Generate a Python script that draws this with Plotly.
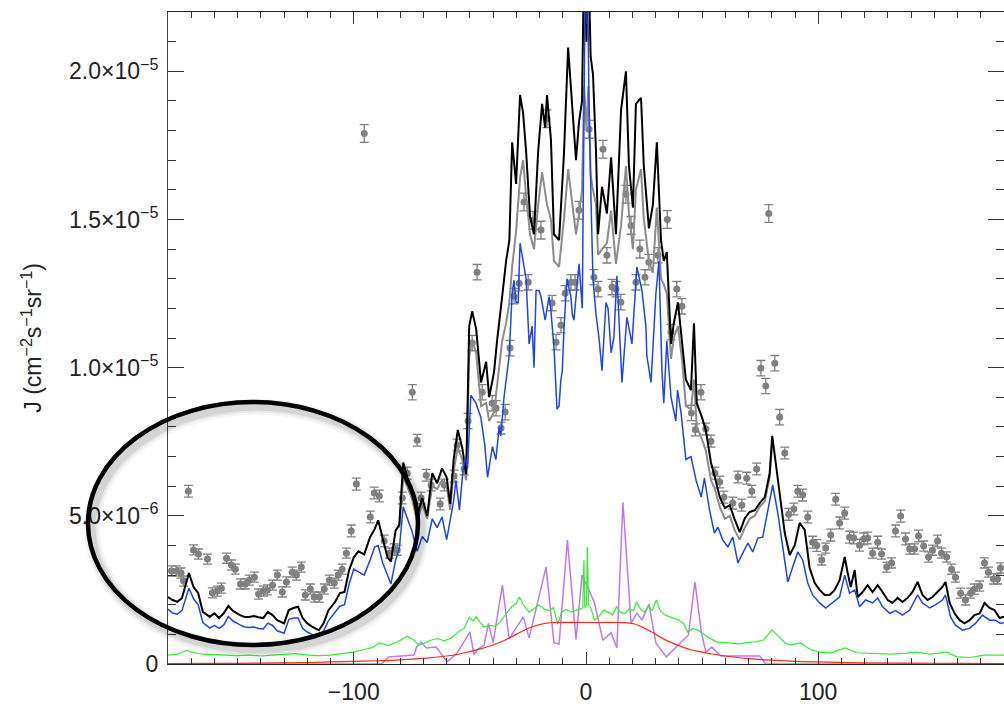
import plotly.graph_objects as go

SCALE = 1e-6  # all intensities below are in units of 1e-6 cm^-2 s^-1 sr^-1

# Observed points: longitude, intensity, 1-sigma error
OBS_X = [-178.5, -176.4, -174.4, -173.3, -171.2, -169.0, -166.9, -163.0, -160.9, -158.8,
         -157.0, -154.8, -152.7, -151.0, -148.8, -146.7, -145.0, -142.8, -141.0, -138.9,
         -137.2, -135.0, -132.9, -130.8, -129.0, -126.5, -124.7, -122.6, -120.9, -118.7,
         -117.0, -114.8, -112.7, -110.5, -108.4, -106.7, -105.0, -103.2, -101.1, -98.9,
         -95.5, -92.9, -91.2, -89.0, -86.9, -84.7, -82.6, -81.3, -79.1, -77.0,
         -74.8, -72.7, -71.0, -68.8, -66.7, -62.8, -61.0, -56.8, -55.5, -52.5,
         -50.8, -49.0, -46.9, -44.7, -40.4, -38.7, -36.6, -34.8, -32.7, -31.0,
         -28.8, -26.7, -24.9, -22.8, -19.4, -16.8, -14.6, -12.9, -10.8, -9.0,
         -6.5, -4.7, -3.0, 1.3, 3.4, 5.2, 7.3, 9.0, 11.2, 12.9,
         15.0, 17.2, 19.4, 21.5, 23.2, 25.4, 27.1, 31.0, 35.0, 36.6,
         39.1, 41.3, 45.4, 47.1, 49.5, 51.6, 53.8, 55.5, 57.6, 59.4,
         63.2, 65.4, 67.1, 69.2, 71.4, 73.5, 75.3, 77.4, 78.7, 81.3,
         83.4, 85.6, 87.3, 89.5, 91.2, 93.3, 95.5, 97.6, 99.4, 101.5,
         103.2, 105.4, 107.5, 109.2, 111.4, 113.5, 115.3, 117.8, 119.6, 121.3,
         123.4, 125.6, 127.3, 129.5, 131.6, 133.3, 135.5, 137.6, 139.4, 141.5,
         143.2, 145.4, 147.5, 149.2, 151.4, 153.1, 155.3, 157.4, 159.1, 161.3,
         163.4, 165.6, 167.3, 169.5, 171.6, 173.3, 175.5, 177.2, 178.5]
OBS_Y = [3.14, 3.14, 3.07, 2.80, 5.83, 3.85, 3.71, 3.54, 2.40, 2.46,
         2.56, 3.57, 3.34, 3.20, 2.70, 2.70, 2.83, 2.93, 2.36, 2.46,
         2.50, 2.66, 3.00, 2.43, 2.77, 3.10, 3.00, 3.27, 2.33, 2.53,
         2.26, 2.26, 2.53, 2.83, 2.73, 3.00, 3.20, 3.74, 4.49, 6.07,
         17.9, 4.96, 5.77, 5.67, 4.15, 3.74, 3.88, 3.84, 5.60, 6.44,
         9.17, 7.55, 5.60, 6.37, 6.04, 5.40, 6.04, 6.34, 7.39, 6.58,
         8.20, 10.83, 13.22, 9.17, 8.80, 8.63, 7.96, 8.50, 10.66, 12.41,
         12.85, 15.59, 12.88, 14.97, 14.64, 18.40, 12.18, 10.86, 11.43, 12.51,
         12.88, 12.88, 15.31, 18.04, 13.05, 12.65, 17.37, 13.79, 12.72, 12.65,
         12.21, 15.85, 14.80, 12.88, 14.00, 13.05, 13.56, 13.79, 15.00, 11.20,
         12.65, 12.07, 8.47, 7.90, 9.17, 7.93, 7.52, 6.44, 6.14, 5.63,
         5.43, 6.31, 5.36, 6.27, 5.83, 6.58, 9.98, 9.38, 15.20, 10.15,
         8.33, 7.12, 5.05, 5.23, 5.83, 5.70, 4.96, 4.11, 4.00, 3.51,
         3.91, 4.35, 5.56, 4.76, 5.09, 4.28, 4.25, 4.01, 4.22, 4.25,
         3.74, 4.11, 3.71, 3.27, 3.41, 4.49, 4.99, 4.22, 3.88, 3.88,
         4.32, 3.98, 3.61, 3.84, 4.15, 3.74, 3.61, 3.20, 2.93, 2.39,
         2.16, 2.39, 2.53, 2.63, 3.41, 3.10, 2.87, 2.87, 3.24]
OBS_ERR = [0.17, 0.17, 0.17, 0.17, 0.20, 0.17, 0.17, 0.17, 0.17, 0.17,
           0.17, 0.17, 0.17, 0.17, 0.17, 0.17, 0.17, 0.17, 0.17, 0.17,
           0.17, 0.17, 0.17, 0.17, 0.17, 0.17, 0.17, 0.17, 0.17, 0.17,
           0.17, 0.17, 0.17, 0.17, 0.17, 0.17, 0.17, 0.17, 0.20, 0.20,
           0.30, 0.20, 0.20, 0.20, 0.20, 0.17, 0.17, 0.17, 0.20, 0.20,
           0.26, 0.20, 0.20, 0.20, 0.20, 0.20, 0.20, 0.20, 0.20, 0.20,
           0.26, 0.26, 0.26, 0.26, 0.26, 0.26, 0.20, 0.26, 0.26, 0.26,
           0.26, 0.30, 0.26, 0.30, 0.30, 0.30, 0.26, 0.26, 0.26, 0.26,
           0.26, 0.26, 0.30, 0.30, 0.26, 0.26, 0.30, 0.26, 0.26, 0.26,
           0.26, 0.30, 0.30, 0.26, 0.30, 0.26, 0.26, 0.26, 0.30, 0.26,
           0.26, 0.26, 0.26, 0.20, 0.26, 0.20, 0.20, 0.20, 0.20, 0.20,
           0.20, 0.20, 0.20, 0.20, 0.20, 0.20, 0.26, 0.26, 0.30, 0.26,
           0.26, 0.20, 0.20, 0.20, 0.20, 0.20, 0.20, 0.20, 0.20, 0.17,
           0.17, 0.20, 0.20, 0.20, 0.20, 0.20, 0.20, 0.20, 0.20, 0.20,
           0.17, 0.20, 0.17, 0.17, 0.17, 0.20, 0.20, 0.20, 0.17, 0.17,
           0.20, 0.17, 0.17, 0.17, 0.20, 0.17, 0.17, 0.17, 0.17, 0.17,
           0.17, 0.17, 0.17, 0.17, 0.17, 0.17, 0.17, 0.17, 0.17]

# Total model (black)
TOTAL = [(-180, 2.26), (-178, 2.16), (-176, 2.10), (-174, 2.22), (-171, 3.07), (-169, 2.6),
         (-167, 2.39), (-165, 1.76), (-162, 1.59), (-160, 1.71), (-158, 1.55), (-156, 1.71),
         (-154, 1.96), (-152, 1.79), (-149, 1.65), (-147, 1.59), (-145, 1.59), (-143, 1.62),
         (-141, 1.58), (-139, 1.55), (-137, 1.76), (-135, 1.65), (-133, 1.48), (-130, 1.37),
         (-128, 1.82), (-126, 1.89), (-124, 1.93), (-122, 1.55), (-120, 1.37), (-118, 1.26),
         (-115, 1.14), (-113, 1.37), (-111, 1.8), (-108, 2.1), (-106, 2.39), (-104, 2.43),
         (-102, 3.17), (-100, 3.6), (-98, 3.8), (-95.5, 3.7), (-93, 4.28), (-91, 4.55),
         (-89.5, 4.85), (-87.5, 4.2), (-85.5, 3.6), (-84, 3.45), (-82, 4.5), (-80.4, 4.7),
         (-78.7, 6.8), (-77, 6.3), (-75, 5.9), (-72.7, 5.0), (-70.5, 5.6), (-68.4, 5.0),
         (-66.2, 6.44), (-64.1, 6.1), (-62, 6.6), (-60, 6.3), (-58.5, 5.4), (-57, 6.9),
         (-55.2, 7.9), (-53.3, 7.3), (-51.6, 6.4), (-50.3, 11.4), (-49, 11.9), (-47.3, 11.3),
         (-45.2, 9.5), (-43, 10.2), (-41.7, 9.0), (-39.6, 9.85), (-38.3, 10.9), (-36.1, 12.4),
         (-34.4, 13.6), (-33, 14.3), (-31.8, 17.6), (-30.1, 16.2), (-28.4, 19.2), (-27.1, 18.6),
         (-25.8, 17.3), (-24.1, 15.1), (-22.4, 14.5), (-20.6, 17.3), (-18.9, 18.9), (-17.6, 18.1),
         (-16.8, 19.2), (-15.1, 17.7), (-13.8, 14.5), (-11.6, 14.3), (-9.5, 17.2), (-7.7, 20.8),
         (-6, 18.7), (-4.3, 17.0), (-3, 18.3), (-1.7, 19.0), (-0.8, 24.0), (0.2, 21.0),
         (1.0, 24.0), (2.0, 20.5), (3, 19.9), (4.3, 17.3), (5.2, 14.5), (6.9, 16.1),
         (9, 15.2), (10.8, 17.1), (12.9, 14.5), (15.1, 18.7), (17.2, 20.0), (18.5, 16.8),
         (20.2, 15.4), (21.5, 18.9), (23.7, 19.1), (24.9, 16.8), (27.1, 14.7), (28.8, 15.5),
         (30.5, 17.6), (32.3, 14.3), (33.5, 13.6), (34.8, 13.9), (36.6, 10.8), (37.8, 11.5),
         (39.6, 12.2), (41.3, 11.0), (43, 9.6), (45.2, 9.24), (46.5, 11.5), (47.7, 8.8),
         (49.9, 8.33), (51.6, 7.89), (53.8, 6.8), (55.5, 6.3), (57.6, 5.63), (59.8, 5.26),
         (61.9, 5.36), (64.1, 4.86), (66.2, 4.45), (68.4, 4.92), (70.5, 5.13), (72.7, 5.19),
         (74.8, 5.43), (77, 5.63), (79.1, 6.44), (80.2, 7.7), (81.3, 7.0), (83.4, 5.77),
         (85.6, 4.42), (87.7, 3.68), (89.9, 4.01), (92, 4.76), (94.2, 4.52), (96.3, 3.24),
         (98.5, 2.73), (100.6, 2.5), (102.8, 2.33), (104.9, 2.33), (107.1, 2.5), (109.2, 2.83),
         (111.4, 3.61), (112.7, 3.07), (114, 2.6), (115.7, 3.17), (117, 2.26), (119.1, 2.43),
         (121.3, 2.66), (123.4, 2.43), (125.6, 2.66), (127.7, 2.43), (129.9, 2.16), (132, 2.06),
         (134.2, 2.23), (136.3, 2.09), (138.5, 2.23), (140.6, 2.43), (142.8, 2.77), (144.9, 2.33),
         (147.1, 2.16), (149.2, 2.26), (151.4, 2.43), (153.5, 2.6), (154.8, 2.77), (156.6, 2.06),
         (158.7, 1.71), (160.9, 1.48), (163, 1.37), (165.2, 1.48), (167.3, 1.65), (169.5, 1.71),
         (171.6, 2.06), (173.8, 1.89), (175.9, 1.82), (178.1, 1.55), (180, 1.6)]

# Alternative model (grey), differs from the total only in the inner region
ALT = [(-80.4, 4.6), (-78.7, 6.3), (-77, 6.0), (-75, 5.6), (-72.7, 4.8), (-70.5, 5.4),
       (-68.4, 4.9), (-66.2, 6.0), (-64.1, 5.9), (-62, 6.2), (-60, 6.0), (-58.5, 5.2),
       (-57, 6.5), (-55.2, 7.3), (-53.3, 6.9), (-51.6, 6.2), (-50.3, 10.4), (-49, 10.9),
       (-47.3, 10.5), (-45.2, 8.7), (-43, 8.8), (-41.7, 8.2), (-39.6, 8.5), (-38.3, 9.4),
       (-36.1, 10.9), (-34.4, 11.5), (-33, 12.2), (-31.8, 13.4), (-30.1, 14.6), (-28.4, 16.4),
       (-27.1, 17.0), (-25.8, 15.8), (-24.1, 14.5), (-22.4, 14.0), (-20.6, 15.5), (-18.9, 16.6),
       (-17.6, 16.0), (-16.8, 15.5), (-15.1, 15.0), (-13.8, 13.6), (-11.6, 13.4), (-9.5, 15.0),
       (-7.7, 16.7), (-6, 15.6), (-4.3, 14.5), (-3, 15.2), (-1.7, 16.0), (-0.8, 19.5),
       (0.2, 18.0), (1.0, 19.5), (2.0, 16.5), (3, 16.0), (4.3, 15.5), (5.2, 13.8),
       (6.9, 14.0), (9, 14.2), (10.8, 15.3), (12.9, 13.5), (15.1, 14.8), (17.2, 16.8),
       (18.5, 15.2), (20.2, 14.0), (21.5, 16.0), (23.7, 16.7), (24.9, 15.0), (27.1, 13.6),
       (28.8, 13.2), (30.5, 15.4), (32.3, 13.0), (33.5, 12.8), (34.8, 12.5), (36.6, 10.3),
       (37.8, 11.0), (39.6, 11.4), (41.3, 10.3), (43, 8.7), (45.2, 8.6), (46.5, 9.6),
       (47.7, 8.0), (49.9, 7.6), (51.6, 7.2), (53.8, 6.2), (55.5, 5.9), (57.6, 5.3),
       (59.8, 4.9), (61.9, 5.0), (64.1, 4.5), (66.2, 4.2), (68.4, 4.6), (70.5, 4.9),
       (72.7, 5.0), (74.8, 5.3), (77, 5.5), (79.1, 6.3), (80.2, 7.5)]

# Diffuse component (blue)
DIFFUSE = [(-180, 1.85), (-178, 1.72), (-176, 1.68), (-174, 1.8), (-171, 2.56), (-169, 2.2),
           (-167, 2.0), (-165, 1.4), (-162, 1.21), (-160, 1.3), (-158, 1.2), (-156, 1.32),
           (-154, 1.6), (-152, 1.45), (-149, 1.32), (-147, 1.25), (-145, 1.23), (-143, 1.25),
           (-141, 1.2), (-139, 1.18), (-137, 1.38), (-135, 1.3), (-133, 1.12), (-130, 1.04),
           (-128, 1.5), (-126, 1.55), (-124, 1.55), (-122, 1.2), (-120, 1.08), (-118, 1.0),
           (-115, 0.95), (-113, 1.12), (-111, 1.45), (-108, 1.75), (-106, 1.95), (-104, 2.0),
           (-102, 2.7), (-100, 3.2), (-98, 3.1), (-95.5, 3.0), (-93, 3.5), (-91, 3.95),
           (-89.5, 4.0), (-87.5, 3.4), (-85.5, 3.0), (-84, 2.7), (-82, 3.5), (-80.4, 3.9),
           (-78.7, 5.3), (-77, 4.9), (-75, 4.5), (-72.7, 3.8), (-70.5, 4.3), (-68.4, 4.1),
           (-66.2, 4.9), (-64.1, 4.6), (-62, 4.96), (-60, 4.2), (-58.5, 4.9), (-57, 5.5),
           (-56, 6.2), (-54.5, 5.2), (-53, 6.5), (-52, 7.0), (-51, 6.6), (-49.6, 9.07),
           (-47.4, 8.8), (-45.3, 8.33), (-43.6, 7.4), (-42.4, 6.3), (-40.3, 7.33), (-38.8, 6.9),
           (-37.4, 8.0), (-36.7, 7.7), (-35.3, 9.0), (-33.1, 10.4), (-31.8, 12.5), (-31, 12.95),
           (-30.1, 12.2), (-29.2, 12.2), (-28.4, 14.2), (-27.5, 13.8), (-26.7, 13.3), (-25.8, 13.0),
           (-24.5, 10.8), (-23.2, 11.4), (-22.4, 10.0), (-21.5, 12.6), (-20.2, 12.6), (-19.4, 12.4),
           (-17.6, 11.6), (-15.9, 12.4), (-15.2, 12.0), (-13.8, 10.7), (-12.5, 8.6), (-11.6, 8.7),
           (-10.8, 9.6), (-10.2, 9.9), (-9.5, 11.3), (-8.2, 13.0), (-6.5, 12.4), (-5.9, 11.8),
           (-5.2, 11.6), (-3.7, 13.0), (-3.0, 13.5), (-1.6, 12.0), (-0.8, 18.8), (-0.3, 23.5),
           (0.6, 23.5), (1.3, 19.0), (2.2, 15.5), (3.0, 13.0), (4.3, 11.8), (5.6, 11.0),
           (6.9, 9.9), (8.6, 12.2), (9.5, 12.0), (10.8, 10.5), (12.0, 11.0), (13.3, 13.1),
           (15.5, 9.5), (17.6, 11.7), (19.8, 10.8), (21.9, 13.4), (24.1, 12.6), (25.8, 11.4),
           (26.2, 10.4), (28, 9.5), (30.1, 12.5), (31.4, 13.6), (32.7, 9.9), (33.5, 8.8),
           (34.8, 10.9), (36.6, 9.0), (38.7, 8.2), (39.4, 9.24), (40.9, 8.5), (43, 6.9),
           (45.2, 7.0), (47.4, 6.2), (49.6, 5.63), (51, 6.27), (53.2, 5.19), (55.3, 4.42),
           (56.8, 4.62), (58.9, 4.18), (61.1, 3.95), (63.2, 4.28), (65.4, 3.41), (67.5, 3.74),
           (69.7, 4.08), (71.8, 3.78), (74, 4.25), (76.1, 4.28), (78.3, 5.19), (80.4, 6.04),
           (82.6, 5.09), (84.7, 3.95), (86.9, 2.77), (89, 3.27), (91.2, 3.78), (93.3, 3.51),
           (95.5, 2.73), (97.6, 2.33), (100.6, 2.06), (103.2, 1.89), (106.2, 2.06), (109.2, 2.26),
           (111.4, 3.0), (113.5, 2.39), (115.7, 2.5), (117.8, 1.93), (120.4, 2.16), (123.4, 2.06),
           (125.6, 2.23), (127.7, 1.93), (130.8, 1.71), (133.3, 1.8), (136.3, 1.65), (139.4, 1.82),
           (142.8, 2.33), (144.9, 2.06), (148, 1.89), (150.6, 2.0), (153.5, 2.16), (154.8, 2.33),
           (157, 1.59), (159.1, 1.31), (162.2, 1.14), (165.2, 1.21), (167.7, 1.37), (170.7, 1.65),
           (173.8, 1.48), (176.3, 1.48), (178.5, 1.37), (180, 1.4)]

# Component (green)
COMP_GREEN = [(-180, 0.30), (-176, 0.33), (-172, 0.46), (-169, 0.38), (-165, 0.33), (-160, 0.32),
              (-155, 0.30), (-150, 0.28), (-145, 0.30), (-140, 0.27), (-135, 0.30), (-130, 0.33),
              (-125, 0.35), (-120, 0.30), (-115, 0.28), (-110, 0.30), (-105, 0.36), (-100, 0.40),
              (-96, 0.48), (-92, 0.55), (-89, 0.71), (-85, 0.62), (-81, 0.75), (-77, 0.94),
              (-74, 0.80), (-72, 0.64), (-69, 0.72), (-66.5, 0.81), (-64, 0.86), (-61, 0.78),
              (-58, 0.88), (-55, 1.08), (-52.5, 1.2), (-50.3, 1.57), (-48.5, 1.45), (-47.3, 1.59),
              (-45.5, 1.4), (-44, 1.25), (-41.5, 1.3), (-39, 1.27), (-37, 1.42), (-35, 1.65),
              (-33.5, 1.78), (-32, 1.93), (-30, 2.05), (-28.7, 2.26), (-27, 2.0), (-24.5, 1.75),
              (-22.5, 1.85), (-20.2, 1.99), (-18, 1.85), (-15.9, 1.8), (-14, 1.9), (-12.2, 1.35),
              (-10.5, 1.75), (-8.6, 1.85), (-6.5, 1.75), (-4.3, 1.8), (-2.5, 1.85), (-1.4, 1.9),
              (-0.9, 3.5), (-0.5, 1.9), (0.2, 2.0), (0.6, 3.95), (1.1, 2.0), (2.0, 1.9),
              (3.7, 1.48), (5.5, 1.6), (7.7, 1.82), (9.5, 1.75), (11.5, 1.65), (13.1, 1.93),
              (14.8, 1.75), (16.7, 1.7), (18.5, 1.85), (20.5, 1.8), (21.7, 2.09), (23.5, 1.85),
              (25.3, 1.75), (27, 1.95), (28.5, 1.8), (30.3, 2.16), (32, 1.8), (34, 1.65),
              (35.5, 1.6), (37.5, 1.55), (39.6, 1.5), (42, 1.37), (43.9, 1.06), (46, 1.2),
              (47.9, 1.15), (50, 1.05), (52.5, 0.9), (56.5, 0.74), (60, 0.72), (62.2, 0.7),
              (66, 0.68), (69.4, 0.72), (73, 0.75), (76.5, 0.81), (80.1, 1.15), (83.7, 0.87),
              (86, 0.7), (88, 0.64), (92.3, 0.71), (96.6, 0.49), (100.9, 0.40), (105.2, 0.37),
              (111.6, 0.54), (116.6, 0.38), (122.4, 0.36), (131, 0.33), (137, 0.36), (142.5, 0.40),
              (148.2, 0.33), (155.4, 0.40), (159.7, 0.24), (165.4, 0.22), (171.2, 0.3), (178.4, 0.3),
              (180, 0.3)]

# Component (violet)
COMP_VIOLET = [(-180, 0.0), (-88, 0.0), (-85, 0.24), (-74, 0.3), (-73, 0.57), (-71, 0.74),
               (-68.8, 0.54), (-64.5, 0.57), (-59.8, 0.07), (-55.5, 0.37), (-50, 1.08), (-48.2, 0.32),
               (-46.5, 0.5), (-43.9, 0.64), (-42, 1.37), (-40, 0.72), (-36, 2.66), (-33.1, 0.85),
               (-27, 1.59), (-24.5, 0.88), (-17.2, 3.27), (-13.8, 0.72), (-11.6, 0.67), (-8, 4.18),
               (-4.3, 0.82), (-1.7, 3.0), (3.5, 2.1), (7.3, 0.8), (10.8, 1.06), (13.3, 0.54),
               (15.9, 5.46), (19.4, 1.37), (21.9, 1.72), (24.1, 1.48), (27.1, 2.02), (30.1, 0.71),
               (34.6, 0.24), (44.1, 0.98), (46.9, 2.77), (49.7, 1.06), (51.6, 0.4), (54.2, 0.57),
               (58.1, 0.27), (74.8, 0.27), (77.4, 0.0), (180, 0.0)]

# Smooth component (red)
COMP_RED = [(-180, 0.01), (-160, 0.02), (-140, 0.03), (-120, 0.05), (-110, 0.07), (-100, 0.09),
            (-90, 0.11), (-80, 0.14), (-70, 0.19), (-60, 0.27), (-55, 0.33), (-50, 0.42),
            (-45, 0.52), (-40, 0.64), (-35, 0.80), (-30, 1.0), (-25, 1.2), (-20, 1.33),
            (-17, 1.38), (-14, 1.40), (0, 1.40), (14, 1.40), (18, 1.39), (21, 1.35),
            (25, 1.22), (30, 1.0), (35, 0.78), (40, 0.62), (45, 0.48), (50, 0.40),
            (55, 0.33), (60, 0.27), (70, 0.18), (80, 0.13), (90, 0.09), (100, 0.07),
            (120, 0.04), (140, 0.03), (160, 0.02), (180, 0.01)]

Y_TICKS = [0, 5e-6, 1e-5, 1.5e-5, 2e-5]
Y_TICK_TEXT = ["0", "5.0×10<sup>−6</sup>", "1.0×10<sup>−5</sup>",
               "1.5×10<sup>−5</sup>", "2.0×10<sup>−5</sup>"]
X_TICKS = [-100, 0, 100]
X_TICK_TEXT = ["−100", "0", "100"]

FONT = "Liberation Sans, Arial, sans-serif"


def split(points):
    xs = [p[0] for p in points]
    ys = [p[1] * SCALE for p in points]
    return xs, ys


fig = go.Figure()

fig.add_trace(go.Scatter(
    x=OBS_X, y=[v * SCALE for v in OBS_Y], mode="markers",
    marker=dict(color="#808080", size=7),
    error_y=dict(type="data", array=[e * SCALE for e in OBS_ERR],
                 color="#808080", thickness=1.3, width=4.5),
    showlegend=False))


def add_line(points, color, width, shape="linear"):
    xs, ys = split(points)
    fig.add_trace(go.Scatter(x=xs, y=ys, mode="lines",
                             line=dict(color=color, width=width, shape=shape),
                             showlegend=False))


add_line(ALT, "#8c8c8c", 2.0)
add_line(TOTAL, "#000000", 2.0)
add_line(DIFFUSE, "#1e46e6", 1.5)
add_line(COMP_VIOLET, "#be78f5", 1.5)
add_line(COMP_GREEN, "#2ef02e", 1.2)
add_line(COMP_RED, "#ff2a1a", 1.2, shape="spline")

# Highlight ellipse over the outer-longitude region, with a soft drop shadow
ex0, ex1, ey0, ey1 = -0.0957, 0.2990, 0.0291, 0.4018
sdx, sdy = 4 / 836, -5 / 652
for w, a in [(16, 0.04), (11, 0.06), (7, 0.08)]:
    fig.add_shape(type="circle", xref="paper", yref="paper",
                  x0=ex0 + sdx, x1=ex1 + sdx, y0=ey0 + sdy, y1=ey1 + sdy,
                  line=dict(color=f"rgba(0,0,0,{a})", width=w))
fig.add_shape(type="circle", xref="paper", yref="paper",
              x0=ex0, x1=ex1, y0=ey0, y1=ey1,
              line=dict(color="#000000", width=4.5))

fig.add_annotation(
    text="J (cm<sup>−2</sup>s<sup>−1</sup>sr<sup>−1</sup>)",
    xref="paper", yref="paper", x=-0.163, y=0.5, textangle=-90,
    showarrow=False, font=dict(family=FONT, size=23, color="#222222"),
    xanchor="center", yanchor="middle")

fig.update_xaxes(
    range=[-180, 180], showgrid=False, zeroline=False,
    showline=True, linecolor="#222222", linewidth=1.2, mirror="allticks",
    ticks="inside", ticklen=12, tickwidth=1, tickcolor="#333333",
    tickvals=X_TICKS, ticktext=X_TICK_TEXT, ticklabelstandoff=7,
    tickfont=dict(family=FONT, size=23, color="#222222"),
    minor=dict(dtick=10, tick0=0, ticks="inside", ticklen=6,
               tickwidth=1, tickcolor="#333333"))
fig.update_yaxes(
    range=[0, 2.2e-5], showgrid=False, zeroline=False,
    showline=True, linecolor="#444444", linewidth=1, mirror="allticks",
    ticks="inside", ticklen=16, tickwidth=1.2, tickcolor="#333333",
    tickvals=Y_TICKS, ticktext=Y_TICK_TEXT, ticklabelstandoff=4,
    tickfont=dict(family=FONT, size=23, color="#222222"),
    minor=dict(dtick=1e-6, tick0=0, ticks="inside", ticklen=8,
               tickwidth=1.2, tickcolor="#333333"))

fig.update_layout(
    width=1004, height=706,
    margin=dict(l=168, r=0, t=12, b=42),
    paper_bgcolor="white", plot_bgcolor="white",
    font=dict(family=FONT, color="#222222"),
    showlegend=False)

fig.write_html("out.html")
